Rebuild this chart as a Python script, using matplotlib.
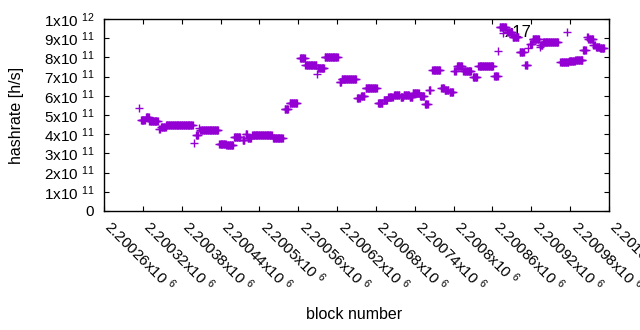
import numpy as np
import matplotlib
matplotlib.use("Agg")
import matplotlib.pyplot as plt
import matplotlib.transforms as mtransforms

plt.rcParams['font.family'] = ['Liberation Sans', 'DejaVu Sans']
plt.rcParams['mathtext.fontset'] = 'custom'
plt.rcParams['mathtext.rm'] = 'Liberation Sans'
plt.rcParams['mathtext.it'] = 'Liberation Sans'

# runs of constant hashrate: first block, last block, hashrate (x1e11 h/s)
run_start = [2200314, 2200317, 2200325, 2200330, 2200345, 2200348, 2200356, 2200399,
             2200402, 2200407, 2200409, 2200438, 2200449, 2200461, 2200474, 2200479,
             2200482, 2200489, 2200521, 2200539, 2200547, 2200563, 2200571, 2200589,
             2200590, 2200601, 2200624, 2200627, 2200651, 2200657, 2200664, 2200683,
             2200692, 2200699, 2200708, 2200718, 2200723, 2200732, 2200737, 2200748,
             2200756, 2200762, 2200767, 2200781, 2200786, 2200794, 2200801, 2200805,
             2200815, 2200830, 2200838, 2200863, 2200868, 2200871, 2200876, 2200883,
             2200891, 2200902, 2200911, 2200915, 2200918, 2200922, 2200933, 2200934,
             2200938, 2200975, 2200965, 2200978, 2200988, 2201000, 2201006, 2201008,
             2201016, 2201020, 2201026]
run_end = [2200314, 2200323, 2200329, 2200343, 2200346, 2200355, 2200397, 2200399,
           2200405, 2200407, 2200436, 2200448, 2200459, 2200470, 2200477, 2200481,
           2200487, 2200519, 2200536, 2200544, 2200558, 2200570, 2200588, 2200589,
           2200600, 2200621, 2200626, 2200649, 2200655, 2200662, 2200681, 2200690,
           2200697, 2200706, 2200716, 2200722, 2200731, 2200736, 2200746, 2200754,
           2200760, 2200764, 2200779, 2200785, 2200792, 2200799, 2200803, 2200813,
           2200827, 2200836, 2200861, 2200868, 2200868, 2200881, 2200876, 2200890,
           2200900, 2200908, 2200914, 2200915, 2200921, 2200932, 2200933, 2200937,
           2200961, 2200975, 2200977, 2200987, 2200999, 2201004, 2201007, 2201015,
           2201018, 2201025, 2201032]
run_rate = [5.35, 4.75, 4.9, 4.68, 4.25, 4.38, 4.47, 3.52,
            3.95, 4.32, 4.2, 3.5, 3.45, 3.85, 3.7, 4.0,
            3.8, 3.96, 3.8, 5.3, 5.6, 7.95, 7.6, 7.15,
            7.45, 8.0, 6.7, 6.88, 5.87, 5.97, 6.4, 5.65,
            5.78, 5.93, 6.02, 5.92, 6.02, 5.95, 6.13, 5.98,
            5.56, 6.3, 7.35, 6.42, 6.3, 6.18, 7.3, 7.55,
            7.28, 7.0, 7.57, 7.05, 8.33, 9.57, 9.25, 9.3,
            9.05, 8.26, 7.6, 8.47, 8.7, 8.95, 8.53, 8.65,
            8.8, 9.33, 7.75, 7.8, 7.88, 8.36, 9.05, 8.94,
            8.65, 8.56, 8.47]

blocks = []
rates = []
for s, e, r in zip(run_start, run_end, run_rate):
    for b in range(s, e + 1):
        blocks.append(b)
        rates.append(r * 1e11)

xticks = list(range(2200260, 2201041, 60))
yticks = [k * 1e11 for k in range(11)]
ylabels = ['0'] + ['%dx10 $^{11}$' % k for k in range(1, 10)] + ['1x10 $^{12}$']

fig = plt.figure(figsize=(6.4, 3.3), dpi=100)
ax = fig.add_axes([104 / 640, 1 - 211 / 330, 505 / 640, 192 / 330])

ax.plot(blocks, rates, linestyle='none', marker='+', markersize=5.8,
        markeredgewidth=1.0, color='#9400D3', zorder=3)
ax.text(2200879, 0.93e12, 'x17', fontsize=12, ha='left', va='center', zorder=1)

ax.set_xlim(2200260, 2201040)
ax.set_ylim(0, 1e12)
ax.set_xticks(xticks)
ax.set_xticklabels(['%gx10 $^{6}$' % (t / 1e6) for t in xticks],
                   rotation=-45, ha='left', va='center', rotation_mode='anchor')
ax.set_yticks(yticks)
ax.set_yticklabels(ylabels)
ax.tick_params(direction='in', length=3.5, width=0.8, top=True, right=True,
               labelsize=11, colors='black')
ax.tick_params(axis='x', pad=9)
ax.tick_params(axis='y', pad=7)
shift = mtransforms.ScaledTranslation(4 / 100, 0, fig.dpi_scale_trans)
for lab in ax.get_xticklabels():
    lab.set_transform(lab.get_transform() + shift)
for sp in ax.spines.values():
    sp.set_linewidth(1.0)

ax.set_xlabel('block number', fontsize=11.5)
ax.set_ylabel('hashrate [h/s]', fontsize=11.5)
ax.xaxis.set_label_coords(0.495, -0.5)
ax.yaxis.set_label_coords(-0.158, 0.5)

fig.savefig('out.png', dpi=100)
